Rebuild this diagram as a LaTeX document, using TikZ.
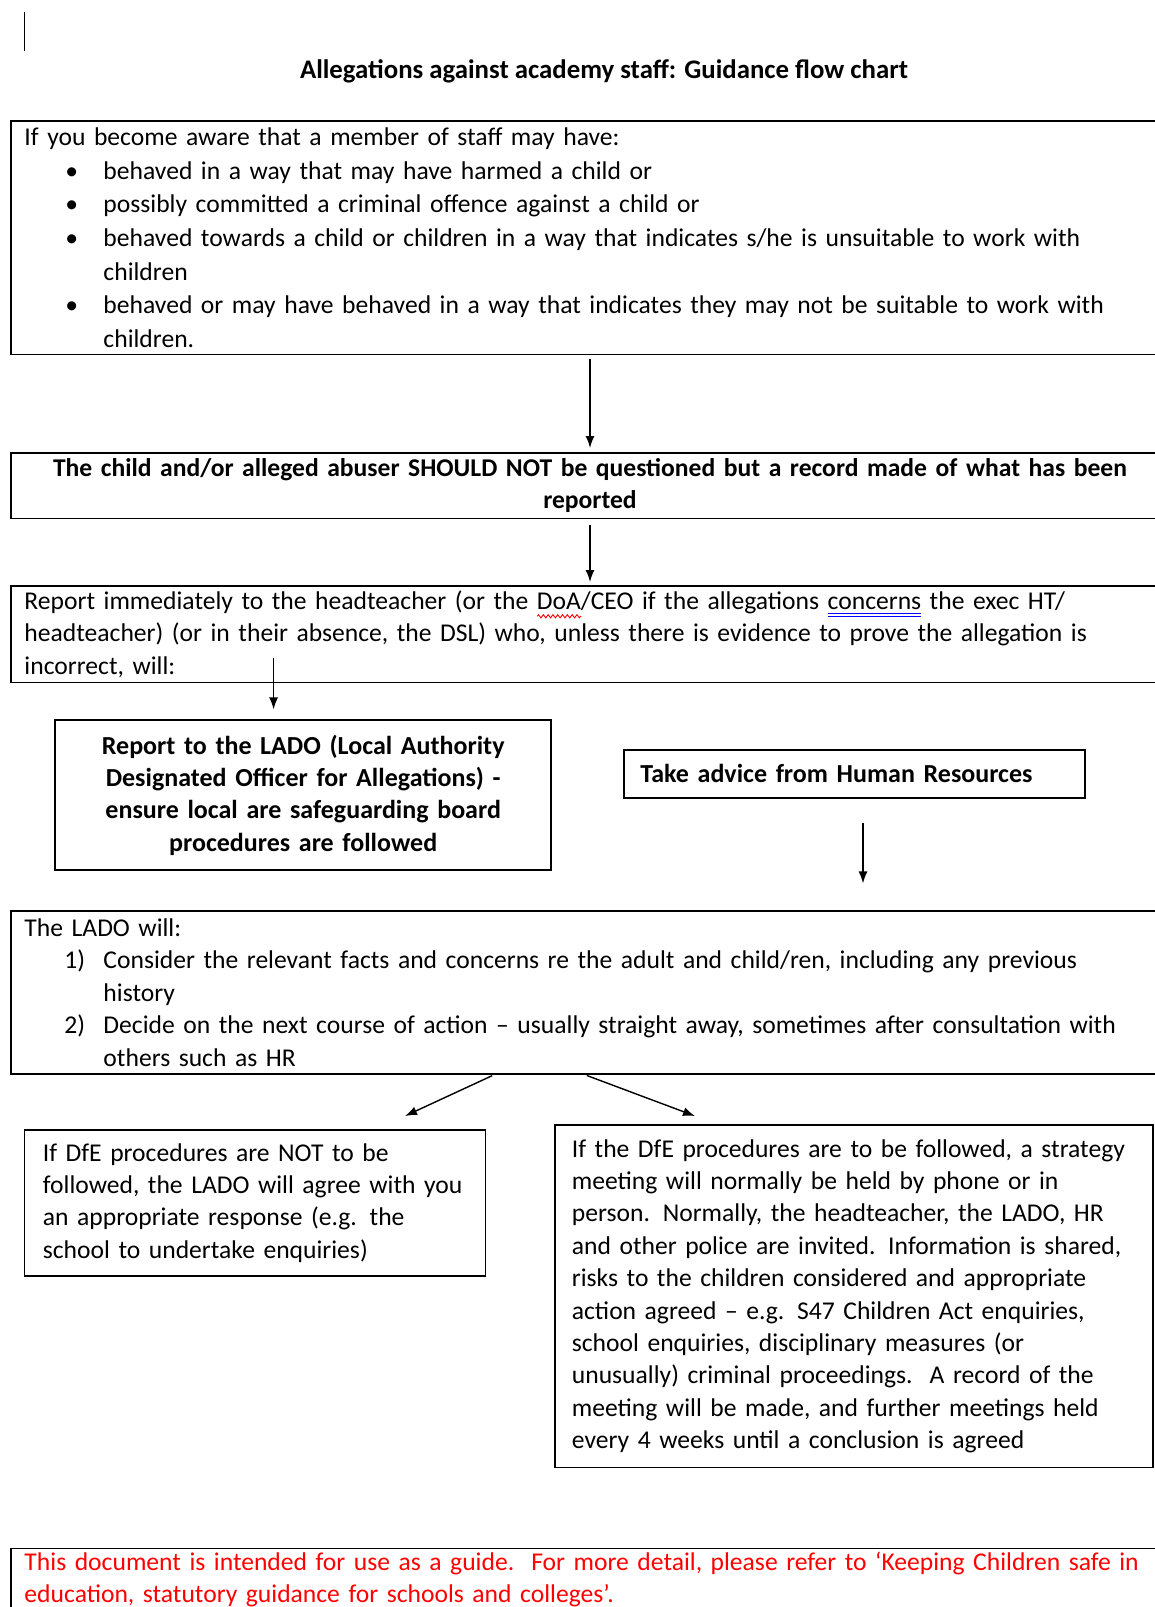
\documentclass[tikz,border=0pt]{standalone}
\usepackage{fontspec}
\setmainfont{Carlito}
\usetikzlibrary{arrows.meta,decorations.pathmorphing}

\newcommand\boxfont{\fontsize{12.8}{16.2}\selectfont}
\newcommand\boldboxfont{\fontsize{13}{16.2}\selectfont\bfseries}
\newlength\ulw
\newcommand\redwave[1]{\settowidth\ulw{#1}\rlap{\tikz[x=1pt,y=1pt,baseline=0pt]\draw[red,line width=0.45pt] decorate[decoration={zigzag,segment length=2.4pt,amplitude=0.8pt}]{(0,-3.4) -- (\ulw,-3.4)};}#1}
\newcommand\bluedbl[1]{\settowidth\ulw{#1}\rlap{\color{blue}\rule[-2.4pt]{\ulw}{0.5pt}}\rlap{\color{blue}\rule[-3.6pt]{\ulw}{0.5pt}}#1}
\newcommand\bulletitem{\par\leavevmode\hangindent=39.5pt\hangafter=1\makebox[39.5pt][l]{\hspace{20.5pt}\textbullet}\ignorespaces}
\newcommand\numitem[1]{\par\leavevmode\hangindent=39.5pt\hangafter=1\makebox[39.5pt][l]{\hspace{20pt}#1}\ignorespaces}

\begin{document}
\begin{tikzpicture}[x=0.5pt,y=-0.5pt,
  box/.style={draw,line width=0.9pt,anchor=north west,align=left,inner ysep=0pt,font=\boxfont},
  widebox/.style={box,text width=565.5pt,inner xsep=6.7pt},
  flow/.style={line width=0.7pt,-{Latex[length=6pt,width=4.5pt]}}]
  \clip (0,0) rectangle (1155,1607);

  % cursor mark
  \draw[line width=0.8pt] (24.6,12) -- (24.6,51);

  % title
  \node[font=\fontsize{13.4}{16.2}\selectfont\bfseries] (title) at (604,71) {Allegations against academy staff: Guidance flow chart};

  % first concern
  \node[widebox,font=\fontsize{12.8}{16.8}\selectfont,minimum height=116.75pt] (aware) at (10.2,120) {If you become aware that a member of staff may have:
    \bulletitem behaved in a way that may have harmed a child or
    \bulletitem possibly committed a criminal offence against a child or
    \bulletitem behaved towards a child or children in a way that indicates s/he is unsuitable to work with\newline children
    \bulletitem behaved or may have behaved in a way that indicates they may not be suitable to work with\newline children.\par};

  \node[widebox,align=center,font=\fontsize{12.8}{16.2}\selectfont\bfseries,minimum height=32.75pt] (noquestion) at (10.2,452)
    {The child and/or alleged abuser SHOULD NOT be questioned but a record made of what has been\\ reported};

  \node[widebox,minimum height=48.25pt] (reporthead) at (10.2,585)
    {Report immediately to the headteacher (or the \redwave{DoA}/CEO if the allegations \bluedbl{concerns} the exec HT/\newline headteacher) (or in their absence, the DSL) who, unless there is evidence to prove the allegation is\newline incorrect, will:};

  % the two actions
  \node[box,align=center,font=\boldboxfont,text width=236pt,inner xsep=6pt,minimum height=74.8pt] (reportlado) at (54.3,719.4)
    {Report to the LADO (Local Authority\\ Designated Officer for Allegations) -\\ ensure local are safeguarding board\\ procedures are followed};
  \node[box,font=\boldboxfont,text width=214pt,inner xsep=8.25pt,minimum height=24pt] (hradvice) at (623,749)
    {Take advice from Human Resources};

  \node[widebox,minimum height=81.5pt] (ladowill) at (10.2,910) {The LADO will:
    \numitem{1)}Consider the relevant facts and concerns re the adult and child/ren, including any previous\newline history
    \numitem{2)}Decide on the next course of action – usually straight away, sometimes after consultation with\newline others such as HR\par};

  % outcomes
  \node[box,text width=212.1pt,inner xsep=9.2pt,minimum height=73pt] (notdfe) at (23.6,1129)
    {If DfE procedures are NOT to be\\ followed, the LADO will agree with you\\ an appropriate response (e.g. the\\ school to undertake enquiries)};
  \node[box,text width=282.2pt,inner xsep=8.3pt,minimum height=171.25pt] (dfe) at (554.4,1124)
    {If the DfE procedures are to be followed, a strategy\\ meeting will normally be held by phone or in\\ person. Normally, the headteacher, the LADO, HR\\ and other police are invited. Information is shared,\\ risks to the children considered and appropriate\\ action agreed – e.g. S47 Children Act enquiries,\\ school enquiries, disciplinary measures (or\\ unusually) criminal proceedings.\ \ A record of the\\ meeting will be made, and further meetings held\\ every 4 weeks until a conclusion is agreed};

  \node[widebox,text=red,minimum height=32.5pt] (guide) at (10.2,1547.5)
    {This document is intended for use as a guide.\ \ For more detail, please refer to ‘Keeping Children safe in\newline education, statutory guidance for schools and \bluedbl{colleges}’.};

  % arrows
  \coordinate (willtail) at (273.6,658);
  \coordinate (hrtail) at (863,823);
  \coordinate (lefthead) at (405,1116);
  \coordinate (righthead) at (695,1116);
  \draw[flow,shorten <=1.75pt,shorten >=2pt] (aware.south) -- (noquestion.north);
  \draw[flow,shorten <=3pt,shorten >=1.5pt] (noquestion.south) -- (reporthead.north);
  \draw[flow,shorten >=5pt] (willtail) -- (willtail |- reportlado.north);
  \draw[flow,shorten >=13.3pt] (hrtail) -- (hrtail |- ladowill.north);
  \draw[flow,shorten <=1pt] ([xshift=-48pt]ladowill.south) -- (lefthead);
  \draw[flow,shorten <=1pt] ([xshift=-2.5pt]ladowill.south) -- (righthead);
\end{tikzpicture}
\end{document}
